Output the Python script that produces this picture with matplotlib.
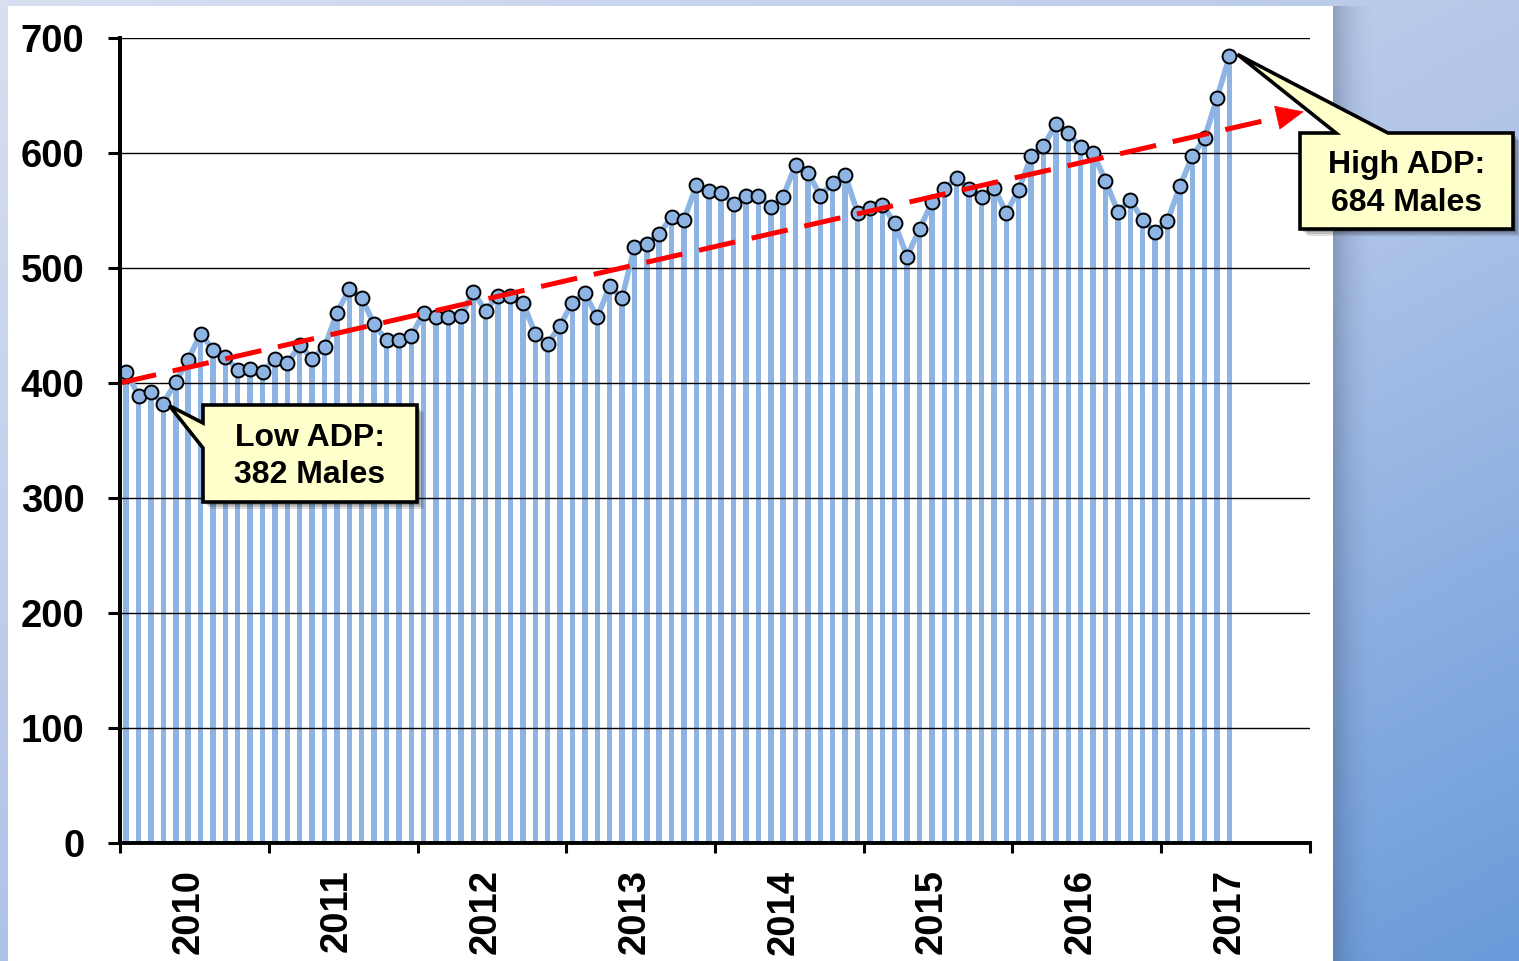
import numpy as np
import matplotlib
matplotlib.use("Agg")
import matplotlib.pyplot as plt
from matplotlib.patches import Polygon, Rectangle
from matplotlib.colors import LinearSegmentedColormap
from matplotlib.transforms import ScaledTranslation

# ---------------- data ----------------
years = ["2010", "2011", "2012", "2013", "2014", "2015", "2016", "2017"]
adp_males = [410, 389, 392, 382, 401, 420, 443, 429, 423, 411, 412, 410,
             421, 417, 433, 421, 431, 461, 482, 474, 451, 437, 437, 441,
             461, 457, 457, 458, 479, 463, 476, 476, 470, 443, 434, 450,
             470, 478, 457, 484, 474, 518, 521, 530, 544, 542, 572, 567,
             565, 556, 563, 563, 553, 562, 590, 583, 563, 574, 581, 548,
             552, 555, 539, 510, 534, 557, 569, 578, 569, 562, 570, 548,
             568, 597, 606, 625, 617, 605, 600, 576, 549, 559, 542, 531,
             541, 571, 597, 613, 648, 684]
trend_start_month = 0.0
trend_start_value = 400
trend_end_month = 95.5
trend_end_value = 636
low_text = "Low ADP:\n382 Males"
high_text = "High ADP:\n684 Males"

plt.rcParams["font.family"] = ["Liberation Sans", "DejaVu Sans"]
plt.rcParams["font.weight"] = "bold"

W, H = 1519, 961
fig = plt.figure(figsize=(W / 100, H / 100), dpi=100)

# ---------------- background ----------------
bg = fig.add_axes([0, 0, 1, 1], zorder=-5)
bg.set_xlim(0, W)
bg.set_ylim(H, 0)
bg.axis("off")
gy, gx = np.mgrid[0:1:120j, 0:1:190j]
t = 0.45 * gx + 0.55 * gy
cmap = LinearSegmentedColormap.from_list("bgc", ["#D8DFF1", "#B3C6E9", "#6A9BDA"])
bg.imshow(t, cmap=cmap, extent=[0, W, H, 0], aspect="auto", interpolation="bilinear")
bg.add_patch(Rectangle((8, 6), 1325, H, facecolor="white", edgecolor="none", zorder=2))
# right shadow of white panel
sh = np.zeros((2, 60, 4))
sh[..., 0] = 0.20
sh[..., 1] = 0.27
sh[..., 2] = 0.40
sh[..., 3] = np.linspace(0.6, 0.0, 60) ** 2.2
bg.imshow(sh, extent=[1333, 1380, H, 6], aspect="auto", interpolation="bilinear", zorder=1.5)
bg.set_xlim(0, W)
bg.set_ylim(H, 0)

# ---------------- main axes ----------------
ax = fig.add_axes([120 / W, (H - 843) / H, 1190 / W, 805 / H], zorder=0)
ax.set_facecolor("none")
n = len(adp_males)
x = np.arange(n) + 0.5
blue = "#8DB4E2"

ax.bar(x, adp_males, width=0.44, color=blue, zorder=1)
ax.plot(x, adp_males, color=blue, lw=4, zorder=3, solid_joinstyle="round")
ax.plot(x, adp_males, ls="none", marker="o", ms=10, mfc=blue, mec="black", mew=1.4, zorder=4)

# trend line with arrow head
head_base = 93.4
slope = (trend_end_value - trend_start_value) / (trend_end_month - trend_start_month)
base_val = trend_start_value + slope * (head_base - trend_start_month)
ax.plot([trend_start_month, head_base - 1.0],
        [trend_start_value, trend_start_value + slope * (head_base - 1.0 - trend_start_month)],
        color="red", lw=3.6, dashes=(7.4, 3.4), dash_capstyle="butt", zorder=5)
ax.annotate("", xy=(trend_end_month, trend_end_value), xytext=(head_base, base_val),
            arrowprops=dict(arrowstyle="-|>,head_length=0.95,head_width=0.42",
                            mutation_scale=20, fc="red", ec="red", lw=0.5,
                            shrinkA=0, shrinkB=0),
            zorder=5, annotation_clip=False)

ax.set_xlim(0, 96)
ax.set_ylim(0, 700)
ax.set_yticks(range(0, 701, 100))
ax.yaxis.grid(True, color="black", lw=1.0)
ax.set_axisbelow("line")
for s in ["top", "right"]:
    ax.spines[s].set_visible(False)
ax.spines["left"].set_linewidth(2.9)
ax.spines["bottom"].set_linewidth(2.8)
ax.spines["left"].set_zorder(6)
ax.spines["bottom"].set_zorder(6)

ax.tick_params(axis="y", labelsize=27.5, pad=17, length=8.6, width=2.2, direction="out")
ax.set_xticks(np.arange(0, 97, 12))
ax.set_xticklabels([""] * 9)
ax.tick_params(axis="x", which="major", length=7, width=2.2, direction="out")
ax.set_xticks(np.arange(6, 96, 12), minor=True)
ax.set_xticklabels(years, minor=True, rotation=90, fontsize=27.5, fontweight="bold")
ax.tick_params(axis="x", which="minor", length=0, pad=19)
off = ScaledTranslation(-6 / 100, 0, fig.dpi_scale_trans)
for lbl in ax.get_xticklabels(minor=True):
    lbl.set_transform(lbl.get_transform() + off)
for lbl in ax.get_yticklabels():
    lbl.set_fontweight("bold")

# ---------------- callouts (overlay in pixel coords) ----------------
ov = fig.add_axes([0, 0, 1, 1], zorder=10)
ov.set_xlim(0, W)
ov.set_ylim(H, 0)
ov.axis("off")
ov.patch.set_alpha(0)


def to_ov(px, py):
    d = ax.transData.transform((px, py))
    return ov.transData.inverted().transform(d)


i_low = int(np.argmin(adp_males))
i_high = int(np.argmax(adp_males))
tip_low = to_ov(x[i_low], adp_males[i_low]) + np.array([6, 2])
tip_high = to_ov(x[i_high], adp_males[i_high]) + np.array([8, -2])

L, T, R, B = 203, 405, 417, 502
low_poly = [(L, T), (R, T), (R, B), (L, B), (L, 448), tuple(tip_low), (L, 423)]
L2, T2, R2, B2 = 1300, 133, 1513, 229
high_poly = [(L2, T2), (1336, T2), tuple(tip_high), (1388, T2), (R2, T2), (R2, B2), (L2, B2)]

for poly in (low_poly, high_poly):
    arr = np.array(poly)
    for k, a in ((7, 0.12), (5, 0.15), (3, 0.2)):
        ov.add_patch(Polygon(arr + k, closed=True, facecolor="black", edgecolor="none",
                             alpha=a, zorder=1))
    ov.add_patch(Polygon(arr, closed=True, facecolor="#FFFFCC", edgecolor="black",
                         lw=2.6, joinstyle="miter", zorder=2))

ov.text((L + R) / 2, (T + B) / 2 + 3, low_text, ha="center", va="center", fontsize=23,
        fontweight="bold", linespacing=1.33, zorder=3)
ov.text((L2 + R2) / 2, (T2 + B2) / 2 + 3, high_text, ha="center", va="center", fontsize=23,
        fontweight="bold", linespacing=1.33, zorder=3)

fig.savefig("out.png", dpi=100)
